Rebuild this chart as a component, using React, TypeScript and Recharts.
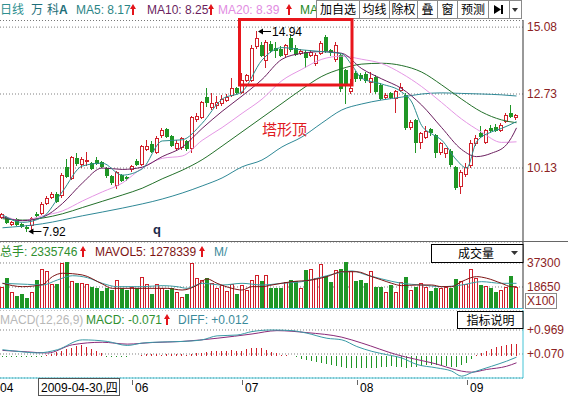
import React from "react";
import {
  Bar,
  CartesianGrid,
  ComposedChart,
  Line,
  ReferenceDot,
  XAxis,
  YAxis,
} from "recharts";

// 万科A 日线, 2009-04 .. 2009-09
const OPEN = [
  8.41, 8.42, 8.18, 8.33, 8.15, 8.06, 8.13, 8.52, 8.55, 8.9,
  9.12, 9.22, 9.18, 10.17, 9.78, 10.48, 10.27, 10.38, 10.31, 10.41,
  10.34, 10.13, 9.85, 9.53, 9.88, 9.82, 10.08, 10.36, 10.27, 10.8,
  10.97, 10.7, 11.29, 11.5, 11.27, 10.82, 10.88, 11.09, 10.82, 11.85,
  11.93, 12.63, 12.26, 12.34, 12.42, 12.52, 12.7, 12.94, 12.81, 13.22,
  13.22, 14.4, 14.45, 13.92, 14.49, 14.35, 14.31, 14.13, 14.69, 14.35,
  14.18, 14.22, 14.1, 13.81, 14.17, 14.74, 14.27, 13.95, 14.1, 13.57,
  12.85, 13.47, 13.4, 13.45, 13.15, 13.33, 13.05, 12.62, 12.75, 12.6,
  12.88, 12.7, 11.57, 11.82, 11.04, 11.22, 11.5, 11.29, 10.69, 10.66,
  10.72, 10.17, 9.5, 9.92, 10.24, 11.01, 11.36, 11.04, 11.54, 11.56,
  11.47, 11.78, 12.08, 11.92,
];
const HIGH = [
  8.56, 8.45, 8.28, 8.36, 8.2, 8.12, 8.4, 8.58, 8.92, 9.15,
  9.3, 9.3, 9.95, 10.45, 10.55, 10.66, 10.5, 10.69, 10.35, 10.5,
  10.38, 10.15, 9.88, 10.02, 9.92, 9.86, 10.22, 10.45, 10.93, 11.11,
  11.07, 11.25, 11.55, 11.55, 11.3, 11.1, 11.22, 11.12, 11.97, 12.05,
  12.5, 12.94, 12.77, 12.65, 12.7, 12.73, 13.29, 12.97, 13.47, 13.45,
  14.45, 14.94, 14.55, 14.63, 14.58, 14.57, 14.4, 14.5, 14.8, 14.45,
  14.3, 14.28, 14.28, 14.18, 14.58, 14.8, 14.32, 14.55, 14.18, 13.62,
  13.25, 13.55, 13.48, 13.5, 13.5, 13.38, 13.1, 12.75, 12.8, 12.88,
  13.1, 12.75, 11.82, 11.85, 11.4, 11.6, 11.55, 11.32, 11.05, 10.85,
  10.8, 10.2, 10.05, 10.3, 11.1, 11.3, 11.6, 11.5, 11.65, 11.68,
  11.7, 12.05, 12.34, 12.02,
];
const LOW = [
  8.38, 8.2, 8.12, 8.12, 8.05, 7.92, 7.98, 8.44, 8.52, 8.86,
  9.08, 8.92, 9.12, 9.82, 9.75, 10.25, 10.18, 10.23, 10.08, 10.28,
  10.15, 9.83, 9.58, 9.43, 9.66, 9.72, 10.02, 10.22, 10.22, 10.75,
  10.7, 10.65, 11.22, 11.22, 10.9, 10.78, 10.8, 10.75, 10.7, 11.78,
  11.9, 12.3, 12.2, 12.25, 12.35, 12.48, 12.65, 12.75, 12.75, 13.18,
  13.18, 14.35, 14.05, 13.69, 14.2, 14.04, 14.05, 14.08, 14.25, 14.1,
  14.12, 13.69, 14.05, 13.75, 14.12, 14.2, 14.1, 13.88, 12.85, 12.41,
  12.75, 13.2, 13.22, 13.15, 12.8, 12.75, 12.55, 12.58, 12.58, 12.1,
  12.82, 11.5, 11.5, 10.69, 10.85, 11.18, 11.3, 10.52, 10.62, 10.5,
  10.2, 9.4, 9.25, 9.85, 10.15, 10.95, 11.22, 11.0, 11.4, 11.42,
  11.42, 11.75, 11.92, 11.85,
];
const CLOSE = [
  8.51, 8.25, 8.23, 8.16, 8.1, 8.02, 8.37, 8.49, 8.87, 9.08,
  9.22, 8.98, 9.88, 9.85, 10.52, 10.31, 10.45, 10.42, 10.13, 10.31,
  10.2, 9.88, 9.64, 9.99, 9.71, 9.78, 10.21, 10.27, 10.9, 10.9,
  10.74, 11.19, 11.46, 11.27, 10.94, 11.02, 11.18, 10.82, 11.93, 11.97,
  12.46, 12.46, 12.42, 12.46, 12.55, 12.63, 12.94, 12.81, 13.22, 13.4,
  14.35, 14.7, 14.1, 14.57, 14.28, 14.28, 14.1, 14.45, 14.31, 14.15,
  14.25, 14.04, 14.22, 14.1, 14.52, 14.27, 14.21, 14.45, 12.94, 13.12,
  12.95, 13.3, 13.28, 13.22, 13.28, 12.85, 12.6, 12.7, 12.62, 12.85,
  12.98, 11.57, 11.75, 11.04, 11.36, 11.43, 11.38, 10.69, 11.0, 10.84,
  10.28, 9.46, 9.99, 10.17, 11.01, 11.18, 11.25, 11.47, 11.45, 11.47,
  11.64, 12.0, 11.96, 11.98,
];
// 成交量 (手/100)
const VOLUME = [
  18900, 25400, 15000, 11900, 13000, 10300, 14500, 24100, 32600, 31100,
  20700, 20700, 37000, 37800, 23300, 21500, 21500, 20700, 18900, 17600,
  15500, 18100, 16300, 24100, 17600, 16300, 18900, 17600, 26700, 20700,
  13000, 20700, 18100, 16300, 17600, 14500, 10900, 13000, 37000, 25400,
  24100, 25900, 21900, 17600, 20200, 15500, 20700, 13000, 20200, 16300,
  24100, 28000, 23300, 28000, 17600, 17600, 17600, 22700, 24100, 23300,
  18100, 31900, 32600, 25400, 36300, 27400, 22700, 31900, 32600, 37800,
  31100, 23300, 24100, 21500, 31100, 18900, 18900, 14500, 20200, 14500,
  22700, 26700, 16300, 18900, 21500, 18900, 15500, 18100, 18100, 18900,
  18100, 24800, 23300, 20700, 32600, 25400, 20200, 19700, 18100, 14800,
  16300, 18900, 27400, 18900,
];
const MACD_HIST = [
  -0.03, -0.04, -0.05, -0.05, -0.06, -0.06, -0.05, -0.04, -0.03, 0.02,
  0.07, 0.14, 0.2, 0.26, 0.31, 0.37, 0.41, 0.34, 0.26, 0.18, 0.1,
  -0.03, -0.05, -0.06, -0.05, -0.04, -0.02, 0.01,
  0.05, 0.06, 0.07, 0.06, 0.05, 0.06, 0.08, 0.07, 0.06, 0.05, 0.07, 0.1,
  0.12, 0.15, 0.18, 0.2, 0.17, 0.2, 0.22, 0.19, 0.2, 0.24, 0.3, 0.31, 0.28, 0.22,
  0.16, 0.1, 0.05, 0.02, -0.02,
  -0.05, -0.12, -0.16, -0.2, -0.24, -0.28, -0.31, -0.34, -0.38, -0.42,
  -0.44, -0.46, -0.47, -0.46, -0.45, -0.46, -0.44, -0.42, -0.4, -0.38,
  -0.4, -0.42, -0.44, -0.42, -0.4, -0.38, -0.36, -0.35, -0.36, -0.37,
  -0.38, -0.4, -0.42, -0.36, -0.25,
  -0.1, 0.05, 0.12, 0.2, 0.27, 0.32, 0.37, 0.41, 0.44, 0.46,
];

// moving averages, read at sample points [index, value]
const MA5_PTS = [
  [0, 8.48], [4, 8.22], [8, 8.4], [12, 9.3], [16, 10.2], [20, 10.3], [24, 9.88],
  [28, 10.1], [32, 11.08], [36, 11.12], [40, 11.7], [44, 12.55], [48, 12.81],
  [52, 13.92], [56, 14.36], [60, 14.28], [64, 14.22], [68, 14.14], [70, 13.75],
  [72, 13.28], [76, 13.08], [80, 12.8], [82, 12.45], [84, 11.62], [86, 11.33],
  [88, 11.11], [91, 10.41], [93, 10.13], [95, 11.05], [98, 11.4], [100, 11.52],
  [103, 11.76],
];
const MA10_PTS = [
  [0, 8.4], [4, 8.28], [8, 8.4], [12, 8.88], [16, 9.6], [20, 10.13], [24, 10.08],
  [28, 10.16], [32, 10.53], [36, 10.86], [40, 11.52], [44, 12.12], [48, 12.66],
  [52, 13.24], [56, 13.95], [60, 14.16], [64, 14.22], [68, 14.16], [72, 13.62],
  [76, 13.26], [80, 12.92], [84, 12.34], [88, 11.55], [92, 10.78], [95, 10.53],
  [98, 10.65], [101, 10.95], [102, 11.2], [103, 11.54],
];
const MA20_PTS = [
  [0, 8.47], [4, 8.28], [8, 8.45], [12, 8.62], [16, 8.97], [20, 9.29], [24, 9.6],
  [28, 10.13], [32, 10.47], [36, 10.55], [40, 11.1], [44, 11.55], [48, 12.05],
  [52, 12.55], [56, 13.2], [60, 13.6], [64, 13.95], [68, 14.06], [72, 13.95],
  [76, 13.8], [80, 13.45], [84, 12.99], [88, 12.43], [92, 11.85], [96, 11.39],
  [100, 11.03], [103, 11.05],
];
const MA30_PTS = [
  [0, 8.35], [4, 8.3], [8, 8.37], [12, 8.52], [16, 8.74], [20, 8.96], [24, 9.18],
  [28, 9.42], [32, 9.75], [36, 10.05], [40, 10.42], [44, 10.9], [48, 11.4],
  [52, 11.9], [56, 12.4], [60, 12.9], [64, 13.35], [68, 13.62], [72, 13.78],
  [76, 13.81], [80, 13.73], [84, 13.5], [88, 13.05], [92, 12.55], [96, 12.1],
  [100, 11.82], [103, 11.72],
];
const MA60_PTS = [
  [0, 8.03], [8, 8.17], [16, 8.45], [24, 8.72], [32, 9.04], [36, 9.25], [40, 9.5],
  [44, 9.78], [48, 10.17], [52, 10.41], [56, 10.87], [60, 11.22], [64, 11.71],
  [68, 12.17], [72, 12.38], [76, 12.52], [80, 12.62], [84, 12.73], [88, 12.77],
  [92, 12.75], [96, 12.73], [100, 12.7], [103, 12.66],
];
const MAVOL5_PTS = [
  [0, 21500], [4, 18900], [8, 20500], [10, 26700], [12, 29300], [16, 28000],
  [20, 21000], [22, 17600], [28, 17600], [33, 17600], [36, 16300], [39, 20000],
  [41, 24900], [43, 21500], [46, 17600], [48, 16300], [50, 18900], [52, 18900],
  [54, 20200], [58, 22800], [62, 24100], [65, 26700], [68, 30500], [71, 30500],
  [74, 26700], [76, 24100], [78, 21500], [80, 19700], [83, 20200], [86, 20200],
  [88, 18900], [90, 18900], [92, 22800], [95, 26700], [97, 25500], [100, 21500],
  [102, 18900], [103, 18900],
];
const MAVOL10_PTS = [
  [0, 21500], [5, 20700], [8, 20200], [11, 24100], [14, 27400], [17, 25900],
  [20, 21500], [23, 18900], [28, 18900], [32, 19700], [35, 18900], [37, 17600],
  [40, 21500], [44, 20200], [48, 21500], [52, 20200], [56, 21500], [60, 22800],
  [63, 25400], [67, 29300], [70, 31100], [73, 27900], [76, 24900], [80, 21500],
  [84, 20200], [88, 18900], [92, 20200], [96, 22800], [100, 21500], [103, 21500],
];
const DIFF_PTS = [
  [0, 0.23], [4, 0.15], [7, 0.11], [11, 0.23], [16, 0.6], [21, 0.54], [25, 0.39],
  [28, 0.48], [32, 0.52], [36, 0.54], [40, 0.6], [43, 0.75], [47, 0.78], [50, 0.91],
  [54, 0.97], [58, 0.945], [61, 0.85], [65, 0.66], [68, 0.6], [71, 0.35], [74, 0.17],
  [77, 0.045], [80, -0.08], [83, -0.32], [87, -0.45], [90, -0.57], [92, -0.76],
  [94, -0.63], [98, -0.39], [101, -0.2], [103, -0.05],
];
const DEA_PTS = [
  [0, 0.205], [5, 0.15], [9, 0.107], [14, 0.415], [20, 0.51], [25, 0.44], [30, 0.5],
  [36, 0.54], [43, 0.66], [50, 0.82], [55, 0.945], [61, 0.87], [68, 0.7], [72, 0.48],
  [79, 0.045], [86, -0.26], [94, -0.61], [97, -0.51], [101, -0.39], [103, -0.26],
];

const PRICE_TICKS = [10.13, 12.73, 15.08];
const VOL_TICKS = [18650, 37300];
const MACD_TICKS = [0.07, 0.969];
const MONTH_IDX = [0, 26, 48, 71, 93];
const MONTH_LABELS = ["04", "06", "07", "08", "09"];

const N = OPEN.length;
const FONT = "Arial, 'Liberation Sans', 'Noto Sans CJK SC', sans-serif";
const CJK = "'Noto Sans CJK SC', 'Noto Sans', sans-serif";
const UP = "#d0202a";
const DOWN = "#1f9626";
const AXIS_TXT = "#8c2323";
const CYAN = "#45c4d6";

function sparse(pts: number[][]) {
  const out: (number | null)[] = new Array(N).fill(null);
  pts.forEach(([i, v]) => {
    out[i] = v;
  });
  return out;
}

const s = {
  ma5: sparse(MA5_PTS),
  ma10: sparse(MA10_PTS),
  ma20: sparse(MA20_PTS),
  ma30: sparse(MA30_PTS),
  ma60: sparse(MA60_PTS),
  mavol5: sparse(MAVOL5_PTS),
  mavol10: sparse(MAVOL10_PTS),
  diff: sparse(DIFF_PTS),
  dea: sparse(DEA_PTS),
};

const rows = OPEN.map((o, i) => ({
  i,
  open: o,
  high: HIGH[i],
  low: LOW[i],
  close: CLOSE[i],
  range: [LOW[i], HIGH[i]],
  vol: VOLUME[i],
  hist: MACD_HIST[i],
  ma5: s.ma5[i],
  ma10: s.ma10[i],
  ma20: s.ma20[i],
  ma30: s.ma30[i],
  ma60: s.ma60[i],
  mavol5: s.mavol5[i],
  mavol10: s.mavol10[i],
  diff: s.diff[i],
  dea: s.dea[i],
}));

function Candle(p: any) {
  const { x, y, width, height, payload } = p;
  if (!payload || !isFinite(x) || !isFinite(y)) return null;
  const { open, close, high, low } = payload;
  const top = Math.min(y, y + height);
  const bot = Math.max(y, y + height);
  const span = high - low || 1;
  const py = (v: number) => top + ((high - v) / span) * (bot - top);
  const c = Math.round(x + width / 2);
  const wx = c - 0.5;
  const hTop = Math.round(top);
  const lBot = Math.round(bot);
  const bTop = Math.round(py(Math.max(open, close)));
  const bBot = Math.round(py(Math.min(open, close)));
  if (close >= open) {
    return (
      <g shapeRendering="crispEdges">
        <line x1={wx} x2={wx} y1={hTop} y2={bTop} stroke={UP} />
        <line x1={wx} x2={wx} y1={bBot + 1} y2={lBot + 1} stroke={UP} />
        <rect x={c - 1.5} y={bTop + 0.5} width={3} height={Math.max(bBot - bTop, 0)} fill="#fff" stroke={UP} />
      </g>
    );
  }
  return (
    <g shapeRendering="crispEdges">
      <line x1={wx} x2={wx} y1={hTop} y2={lBot + 1} stroke={DOWN} />
      <rect x={c - 2} y={bTop} width={4} height={Math.max(bBot - bTop + 1, 1)} fill={DOWN} />
    </g>
  );
}

function VolBar(p: any) {
  const { x, y, width, height, payload } = p;
  if (!payload || !isFinite(x) || !isFinite(y)) return null;
  const c = Math.round(x + width / 2);
  const top = Math.round(Math.min(y, y + height));
  const bot = Math.round(Math.max(y, y + height));
  if (payload.close >= payload.open) {
    return (
      <rect x={c - 1.5} y={top + 0.5} width={3} height={Math.max(bot - top - 1, 0)} fill="#fff" stroke={UP} shapeRendering="crispEdges" />
    );
  }
  return <rect x={c - 2} y={top} width={4} height={bot - top} fill={DOWN} shapeRendering="crispEdges" />;
}

function HistBar(p: any) {
  const { x, y, width, height, payload } = p;
  if (!payload || !isFinite(x) || !isFinite(y)) return null;
  const c = Math.round(x + width / 2);
  const t = Math.min(y, y + height);
  const b = Math.max(y, y + height);
  return (
    <line x1={c - 0.5} x2={c - 0.5} y1={t} y2={b} stroke={payload.hist >= 0 ? UP : DOWN} shapeRendering="crispEdges" />
  );
}

const arrowLabel = (label: string) => (p: any) => {
  const cx = p.cx;
  const cy = Math.round(p.cy) + 0.5;
  return (
    <g>
      <polygon points={`${cx + 1},${cy} ${cx + 6},${cy - 3} ${cx + 6},${cy + 3}`} fill="#000" />
      <line x1={cx + 5} x2={cx + 14} y1={cy} y2={cy} stroke="#000" />
      <text x={cx + 15} y={cy + 4.5} fontSize={12} fontFamily={FONT} fill="#000">
        {label}
      </text>
    </g>
  );
};

function MonthTick(p: any) {
  const v = p.payload.value;
  const label = MONTH_LABELS[MONTH_IDX.indexOf(v)];
  const px = Math.round(p.x);
  if (v === 0) {
    return (
      <text x={0} y={82} fontSize={12} fontFamily={FONT} fill="#000">
        {label}
      </text>
    );
  }
  return (
    <g>
      <line x1={px + 0.5} x2={px + 0.5} y1={70} y2={75} stroke="#666" />
      <text x={px + 3} y={82} fontSize={12} fontFamily={FONT} fill="#000">
        {label}
      </text>
    </g>
  );
}

const lineProps = {
  dot: false,
  activeDot: false,
  connectNulls: true,
  isAnimationActive: false,
  type: "monotone" as const,
  strokeWidth: 1,
};

function UpArrow({ x, y }: { x: number; y: number }) {
  return (
    <g fill="#e3151b">
      <polygon points={`${x - 3},${y + 5} ${x},${y} ${x + 3},${y + 5}`} />
      <rect x={x - 1} y={y + 4} width={2} height={7} />
    </g>
  );
}

const BUTTONS: [string, number, number][] = [
  ["加自选", 316, 359],
  ["均线", 359, 389],
  ["除权", 389, 417],
  ["叠", 417, 437],
  ["窗", 437, 457],
  ["预测", 457, 488],
  ["", 488, 509],
  ["", 509, 521],
];

function Overlay() {
  return (
    <svg width={568} height={396} style={{ position: "absolute", left: 0, top: 0, pointerEvents: "none" }}>
      {/* header */}
      <text x={0} y={14} fontSize={12} fontFamily={CJK} fill="#2e9090">日线</text>
      <text x={31} y={14} fontSize={12} fontFamily={CJK} fill="#1f6f7a">万</text>
      <text x={47} y={14} fontSize={12} fontFamily={CJK} fill="#1f6f7a">科</text>
      <text x={59} y={14} fontSize={12} fontFamily={FONT} fontWeight="bold" fill="#1f6f7a">A</text>
      <text x={76} y={14} fontSize={12} fontFamily={FONT} fill="#2b8585">MA5: 8.17</text>
      <UpArrow x={133} y={4} />
      <text x={147} y={14} fontSize={12} fontFamily={FONT} fill="#6b1f5f">MA10: 8.25</text>
      <UpArrow x={211} y={4} />
      <text x={218} y={14} fontSize={12} fontFamily={FONT} fill="#e28be2">MA20: 8.39</text>
      <UpArrow x={289} y={4} />
      <text x={300} y={14} fontSize={12} fontFamily={FONT} fill="#1e8a1e">MA</text>
      {BUTTONS.map(([t, x0, x1]) => (
        <g key={x0}>
          <rect x={x0 + 0.5} y={0.5} width={x1 - x0} height={18} fill="#fff" stroke="#8a8a8a" />
          {t && (
            <text x={(x0 + x1) / 2 + 0.5} y={14} textAnchor="middle" fontSize={12} fontFamily={CJK} fill="#000">
              {t}
            </text>
          )}
        </g>
      ))}
      <polygon points="494,5 494,14 501,9.5" fill="#000" />
      <rect x={501} y={5} width={2} height={9} fill="#000" />
      <polygon points="512,8 518,8 515,12" fill="#333" />
      <line x1={0} x2={523} y1={20.5} y2={20.5} stroke="#777" strokeDasharray="1 2" />

      {/* annotations */}
      <rect x={239.5} y={19.5} width={112.5} height={65.5} fill="none" stroke="#e8161c" strokeWidth={3} />
      <text x={262} y={135} fontSize={15} fontFamily={CJK} fill="#e0191e">塔形顶</text>
      <text x={153} y={234} fontSize={13} fontWeight="bold" fontFamily={FONT} fill="#1b2a4a">q</text>

      {/* volume panel */}
      <line x1={0} x2={568} y1={241.5} y2={241.5} stroke="#666" />
      <text x={0} y={256} fontSize={12} fontFamily={FONT} fill="#2f8f2f">总手: 2335746</text>
      <UpArrow x={83} y={246} />
      <text x={95} y={256} fontSize={12} fontFamily={FONT} fill="#7d1414">MAVOL5: 1278339</text>
      <UpArrow x={202} y={246} />
      <text x={214} y={256} fontSize={12} fontFamily={FONT} fill="#3a8a9a">M/</text>
      <rect x={431.5} y={244.5} width={91.5} height={18} fill="#fff" stroke="#000" />
      <text x={476} y={258} textAnchor="middle" fontSize={12} fontFamily={CJK} fill="#000">成交量</text>
      <polygon points="511,251 518,251 514.5,255" fill="#333" />
      <rect x={525.5} y={293.5} width={31} height={15} fill="#fff" stroke="#8a8a8a" />
      <text x={527} y={305} fontSize={12} fontFamily={FONT} fill={AXIS_TXT}>X100</text>
      <line x1={0} x2={523} y1={308.5} y2={308.5} stroke={CYAN} />

      {/* macd panel */}
      <text x={0} y={324} fontSize={12} fontFamily={FONT} fill="#b8b8b8">MACD(12,26,9)</text>
      <text x={86} y={324} fontSize={12} fontFamily={FONT} fill="#2f8f2f">MACD: -0.071</text>
      <UpArrow x={167} y={314} />
      <text x={178} y={324} fontSize={12} fontFamily={FONT} fill="#3a8a9a">DIFF: +0.012</text>
      <rect x={457.5} y={311.5} width={65.5} height={17} fill="#fff" stroke="#000" />
      <text x={490.5} y={324.5} textAnchor="middle" fontSize={12} fontFamily={CJK} fill="#000">指标说明</text>

      {/* cursor date */}
      <rect x={38.5} y={378.5} width={81} height={17} fill="#fff" stroke="#555" />
      <text x={41} y={392} fontSize={12} fontFamily={FONT} fill="#000">2009-04-30,四</text>
    </svg>
  );
}

export default function App() {
  const xAxisHidden = <XAxis dataKey="i" hide padding={{ left: 0, right: 4 }} />;
  return (
    <div
      style={{
        position: "absolute",
        left: 0,
        top: 0,
        width: 568,
        height: 396,
        background: "#fff",
        fontFamily: FONT,
        overflow: "hidden",
      }}
    >
      <div style={{ position: "absolute", left: 0, top: 20 }}>
        <ComposedChart width={568} height={222} data={rows} margin={{ top: 0, right: 0, bottom: 0, left: 0 }}>
          <CartesianGrid vertical={false} stroke="#808080" strokeDasharray="1 2" />
          {xAxisHidden}
          <YAxis
            orientation="right"
            width={45}
            domain={[7.53, 15.33]}
            allowDataOverflow
            ticks={PRICE_TICKS}
            interval={0}
            tickFormatter={(v: number) => v.toFixed(2)}
            tick={{ fill: AXIS_TXT, fontSize: 12, fontFamily: FONT }}
            tickLine={false}
            tickSize={2}
            tickMargin={2}
            axisLine={{ stroke: "#333" }}
          />
          <Line dataKey="ma60" stroke="#2f8896" {...lineProps} />
          <Line dataKey="ma30" stroke="#23702a" {...lineProps} />
          <Line dataKey="ma20" stroke="#e496e4" {...lineProps} />
          <Line dataKey="ma10" stroke="#6b1f5f" {...lineProps} />
          <Line dataKey="ma5" stroke="#2b8c8c" {...lineProps} />
          <Bar dataKey="range" barSize={4} isAnimationActive={false} shape={(p: any) => <Candle {...p} />} />
          <ReferenceDot x={51} y={14.94} r={0} shape={arrowLabel("14.94")} />
          <ReferenceDot x={5} y={7.92} r={0} shape={arrowLabel("7.92")} />
        </ComposedChart>
      </div>

      <div style={{ position: "absolute", left: 0, top: 242 }}>
        <ComposedChart width={568} height={67} data={rows} margin={{ top: 0, right: 0, bottom: 0, left: 0 }}>
          <CartesianGrid vertical={false} stroke="#808080" strokeDasharray="1 2" />
          {xAxisHidden}
          <YAxis
            orientation="right"
            width={45}
            domain={[1554, 53600]}
            allowDataOverflow
            ticks={VOL_TICKS}
            interval={0}
            tickFormatter={(v: number) => String(v)}
            tick={{ fill: AXIS_TXT, fontSize: 12, fontFamily: FONT }}
            tickLine={false}
            tickSize={2}
            tickMargin={2}
            axisLine={{ stroke: "#333" }}
          />
          <Bar dataKey="vol" barSize={4} isAnimationActive={false} shape={(p: any) => <VolBar {...p} />} />
          <Line dataKey="mavol10" stroke="#3a9aa0" {...lineProps} />
          <Line dataKey="mavol5" stroke="#7d1414" {...lineProps} />
        </ComposedChart>
      </div>

      <div style={{ position: "absolute", left: 0, top: 310 }}>
        <ComposedChart width={568} height={86} data={rows} margin={{ top: 0, right: 0, bottom: 0, left: 0 }}>
          <CartesianGrid vertical={false} stroke="#808080" strokeDasharray="1 2" />
          <XAxis
            dataKey="i"
            height={18}
            padding={{ left: 0, right: 4 }}
            ticks={MONTH_IDX}
            interval={0}
            tickLine={false}
            axisLine={{ stroke: CYAN }}
            tick={(p: any) => <MonthTick {...p} />}
          />
          <YAxis
            orientation="right"
            width={45}
            domain={[-0.829, 1.718]}
            allowDataOverflow
            ticks={MACD_TICKS}
            interval={0}
            tickFormatter={(v: number) => (v >= 0 ? "+" : "") + v.toFixed(3)}
            tick={{ fill: AXIS_TXT, fontSize: 12, fontFamily: FONT }}
            tickLine={false}
            tickSize={2}
            tickMargin={2}
            axisLine={{ stroke: CYAN }}
          />
          <Bar dataKey="hist" barSize={1} isAnimationActive={false} shape={(p: any) => <HistBar {...p} />} />
          <Line dataKey="dea" stroke="#8a2a78" {...lineProps} />
          <Line dataKey="diff" stroke="#3a9aa6" {...lineProps} />
        </ComposedChart>
      </div>

      <Overlay />
    </div>
  );
}
